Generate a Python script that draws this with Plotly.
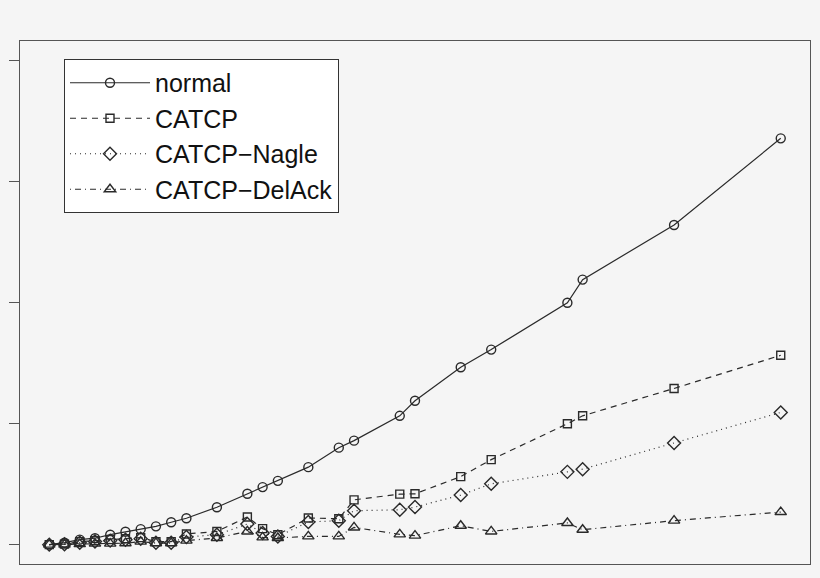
import plotly.graph_objects as go

# message counts along the x axis
x_vals = [1, 2, 3, 4, 5, 6, 7, 8, 9, 10, 12, 14, 15, 16, 18, 20, 21, 24, 25, 28, 30, 35, 36, 42, 49]

normal = [0.0, 0.016, 0.041, 0.053, 0.082, 0.107, 0.128, 0.151, 0.185, 0.218,
          0.309, 0.420, 0.475, 0.527, 0.640, 0.801, 0.859, 1.064, 1.188, 1.465,
          1.611, 1.998, 2.189, 2.640, 3.356]
catcp = [0.0, 0.004, 0.025, 0.033, 0.041, 0.049, 0.058, 0.025, 0.025, 0.088,
         0.109, 0.228, 0.132, 0.082, 0.220, 0.214, 0.370, 0.417, 0.420, 0.562,
         0.702, 0.998, 1.064, 1.290, 1.564]
catcp_nagle = [0.0, 0.004, 0.016, 0.025, 0.033, 0.041, 0.049, 0.016, 0.016, 0.063,
               0.082, 0.170, 0.096, 0.068, 0.187, 0.198, 0.280, 0.288, 0.310, 0.409,
               0.502, 0.601, 0.623, 0.840, 1.092]
catcp_delack = [0.0, 0.0, 0.004, 0.008, 0.008, 0.012, 0.025, 0.012, 0.012, 0.033,
                0.055, 0.109, 0.060, 0.055, 0.068, 0.068, 0.142, 0.085, 0.074, 0.156,
                0.109, 0.179, 0.123, 0.198, 0.269]

series_names = ["normal", "CATCP", "CATCP\u2212Nagle", "CATCP\u2212DelAck"]
y_ticks = [0, 1, 2, 3, 4]

ink = "#2a2a2a"
bg = "#f5f5f5"

# R lty 1..4 approximated as svg dash arrays
styles = [
    ("solid", "circle-open", 9),
    ("6px,5px", "square-open", 8),
    ("1px,4px", "diamond-open", 10),
    ("1px,4px,6px,4px", "triangle-up-open", 10),
]

fig = go.Figure()
for name, ys, (dash, sym, size) in zip(series_names, [normal, catcp, catcp_nagle, catcp_delack], styles):
    fig.add_trace(go.Scatter(
        x=x_vals, y=ys, name=name, mode="lines+markers",
        line=dict(color=ink, width=1.2, dash=dash),
        marker=dict(symbol=sym, size=size, color=ink, line=dict(color=ink, width=1.4)),
    ))

# R-style 4% padding around the data
x_pad = 0.04 * (max(x_vals) - min(x_vals))

fig.update_layout(
    width=820, height=578,
    margin=dict(l=20, r=10, t=41, b=14),
    paper_bgcolor=bg, plot_bgcolor=bg,
    font=dict(family="Liberation Sans, Arial, sans-serif", color="#111111"),
    showlegend=True,
    legend=dict(
        x=0.0557, y=0.9656, xanchor="left", yanchor="top",
        bgcolor="white", bordercolor="#333333", borderwidth=1,
        font=dict(size=25), itemwidth=80, tracegroupgap=0,
    ),
)
fig.update_xaxes(
    range=[min(x_vals) - x_pad, max(x_vals) + x_pad],
    showgrid=False, zeroline=False, showticklabels=False, ticks="",
    showline=True, mirror=True, linecolor="#555555", linewidth=1,
)
fig.update_yaxes(
    range=[-0.16, 4.16], tickvals=y_ticks,
    showgrid=False, zeroline=False, showticklabels=False,
    ticks="outside", ticklen=10, tickcolor="#555555",
    showline=True, mirror=True, linecolor="#555555", linewidth=1,
)

# drop the page's default body margin so the figure sits flush in the window
fig.write_html(
    "out.html",
    config={"displayModeBar": False},
    post_script="document.body.style.margin='0';document.body.style.background='%s';" % bg,
)
